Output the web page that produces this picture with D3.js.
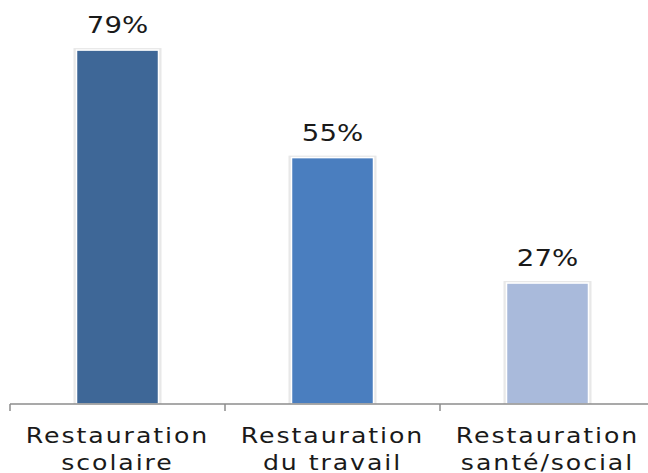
<!DOCTYPE html>
<html>
<head>
<meta charset="utf-8">
<script src="https://cdn.jsdelivr.net/npm/d3@7"></script>
<style>
  html, body { margin: 0; padding: 0; background: #fff; }
  svg { display: block; }
</style>
</head>
<body>
<script>
// data
const categories = [["Restauration", "scolaire"], ["Restauration", "du travail"], ["Restauration", "santé/social"]];
const values = [79, 55, 27];
const colors = ["#3e6797", "#4a7ebf", "#a9badb"];

const W = 648, H = 473;
const svg = d3.select("body").append("svg")
    .attr("width", W)
    .attr("height", H);

const x = d3.scaleBand()
    .domain(d3.range(values.length))
    .range([10, 655])
    .paddingInner(0)
    .paddingOuter(0);

// 0 at baseline 404, ~4.48px per percent
const y = d3.scaleLinear()
    .domain([0, 90])
    .range([404, 404 - 90 * 4.48]);

const barW = 82;

// soft grey halo behind bars
svg.append("g").selectAll("rect")
  .data(values)
  .join("rect")
    .attr("x", (d, i) => x(i) + (x.bandwidth() - barW) / 2 - 3)
    .attr("y", d => y(d) - 2)
    .attr("width", barW + 6)
    .attr("height", d => y(0) - y(d) + 2)
    .attr("fill", "#e8e8e8");

svg.append("g").selectAll("rect")
  .data(values)
  .join("rect")
    .attr("x", (d, i) => x(i) + (x.bandwidth() - barW) / 2)
    .attr("y", d => y(d))
    .attr("width", barW)
    .attr("height", d => y(0) - y(d))
    .attr("fill", (d, i) => colors[i])
    .attr("stroke", "#fff")
    .attr("stroke-width", 1.5);

// value labels (stretched wide like the original)
svg.append("g").selectAll("text")
  .data(values)
  .join("text")
    .attr("transform", (d, i) => `translate(${x(i) + x.bandwidth() / 2},${y(d) - 17}) scale(1.2,1)`)
    .attr("text-anchor", "middle")
    .attr("font-family", "'DejaVu Sans', sans-serif")
    .attr("font-size", 23)
    .attr("fill", "#1a1a1a")
    .text(d => d + "%");

// axis
const axis = svg.append("g")
    .attr("transform", `translate(0,${y(0)})`);
axis.append("line")
    .attr("x1", 10).attr("x2", W)
    .attr("stroke", "#8c8c8c").attr("stroke-width", 1.5);
axis.selectAll("line.tick")
  .data(d3.range(values.length))
  .join("line")
    .attr("class", "tick")
    .attr("x1", i => x(i)).attr("x2", i => x(i))
    .attr("y1", 0).attr("y2", 7)
    .attr("stroke", "#8c8c8c").attr("stroke-width", 1.5);

// category labels
const lab = svg.append("g").selectAll("text")
  .data(categories)
  .join("text")
    .attr("transform", (d, i) => `translate(${x(i) + x.bandwidth() / 2},0) scale(1.2,1)`)
    .attr("text-anchor", "middle")
    .attr("font-family", "'DejaVu Sans', sans-serif")
    .attr("font-size", 21)
    .attr("letter-spacing", 1.6)
    .attr("fill", "#1a1a1a");
lab.each(function(lines) {
  const t = d3.select(this);
  lines.forEach((s, k) => {
    t.append("tspan")
      .attr("x", 0)
      .attr("y", 443 + k * 27)
      .text(s);
  });
});
</script>
</body>
</html>
